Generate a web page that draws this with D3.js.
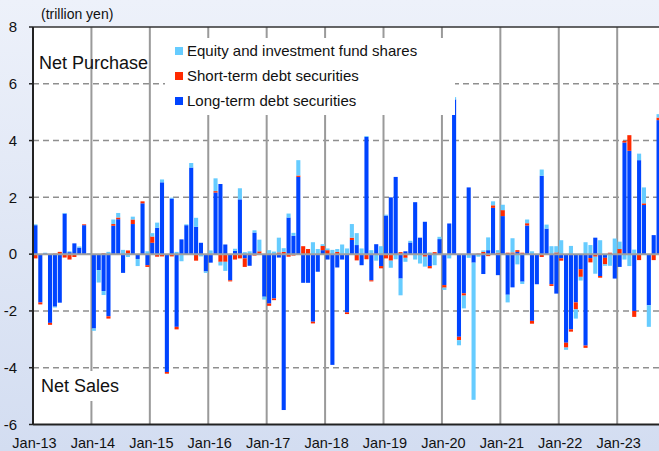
<!DOCTYPE html>
<html>
<head>
<meta charset="utf-8">
<script src="https://cdn.jsdelivr.net/npm/d3@7"></script>
<style>
  body { margin: 0; padding: 0; overflow: hidden; }
  svg { display: block; font-family: "Liberation Sans", Arial, sans-serif; }
</style>
</head>
<body>
<div id="chart"></div>
<script>
// monthly data, Jan-13 .. Sep-23 (trillion yen)
var longTerm = [
  1.02, -1.70, 0.03, -2.42, -1.85, -1.71, 1.43, 0.07, 0.38, 0.23, 1.02, 0.02,
  -2.62, -0.56, -1.30, -2.19, 1.00, 1.23, -0.66, 0.03, 1.06, -0.17, 1.79, -0.39,
  0.40, 0.93, 2.53, -4.15, 1.96, -2.56, 0.52, 1.02, 3.05, 0.96, 0.40, -0.61,
  -0.30, 2.17, 2.47, 0.34, -0.92, 0.12, 1.93, -0.15, -0.41, 0.76, 0.02, -1.50,
  -1.74, -1.56, -0.12, -5.49, 1.29, 0.65, 2.72, -1.01, -1.01, -2.38, -0.62, 0.14,
  -0.19, -3.90, -0.47, -0.19, -2.05, 0.50, 0.32, -0.39, 4.13, -0.92, 0.35, -0.42,
  1.36, 2.00, 2.72, -0.86, 0.10, 0.41, 1.83, 0.58, 1.14, -0.42, 0.00, 0.53,
  -1.09, 1.08, 5.45, -2.91, -1.38, 2.35, -0.30, -0.03, -0.70, 0.14, 1.63, -0.74,
  1.34, -1.43, -1.17, 0.08, -0.97, 1.01, -2.35, -1.06, 2.76, 0.90, -1.06, -1.39,
  -0.15, -3.12, -2.65, -1.70, -0.53, -3.22, -0.14, 0.58, -0.77, -0.13, 0.00, -0.86,
  -0.45, 3.93, 3.64, -2.00, 3.31, 1.73, -1.80, 0.67, 4.72
];
var shortTerm = [
  -0.15, -0.07, 0.00, -0.07, 0.02, 0.08, -0.12, -0.19, -0.10, 0.00, 0.03, 0.00,
  0.00, 0.00, 0.03, -0.08, 0.06, 0.06, 0.00, 0.10, 0.16, 0.00, 0.07, -0.06,
  0.22, -0.09, -0.08, -0.06, -0.08, -0.09, 0.00, 0.00, 0.00, -0.23, 0.00, 0.00,
  0.00, 0.05, -0.27, -0.27, -0.04, -0.19, -0.15, -0.30, 0.00, -0.05, 0.08, 0.00,
  -0.08, -0.06, 0.06, 0.08, -0.09, -0.05, 0.05, 0.28, 0.18, -0.06, 0.00, 0.15,
  0.14, 0.00, 0.08, 0.00, -0.06, 0.08, -0.22, 0.00, -0.18, -0.04, 0.00, -0.08,
  -0.15, -0.23, 0.00, 0.07, -0.13, 0.00, 0.00, 0.00, -0.09, -0.08, 0.07, 0.00,
  -0.09, 0.00, 0.00, -0.12, -0.08, 0.00, 0.00, 0.02, 0.08, -0.07, 0.09, 0.05,
  0.21, 0.05, 0.06, 0.06, 0.05, 0.08, -0.10, 0.00, -0.10, 0.00, -0.06, 0.06,
  -0.08, -0.17, -0.08, -0.24, -0.27, -0.08, -0.15, -0.09, -0.06, -0.23, 0.05, 0.00,
  0.18, 0.06, 0.55, -0.21, -0.21, 0.06, 0.00, -0.21, 0.09
];
var equity = [
  0.03, 0.00, 0.02, 0.00, -0.03, 0.00, 0.02, 0.03, 0.00, 0.04, 0.00, 0.02,
  -0.08, -0.44, -0.14, 0.08, 0.16, 0.16, 0.15, -0.10, 0.10, -0.25, 0.00, 0.10,
  0.12, 0.18, 0.10, 0.00, 0.03, 0.08, -0.25, 0.03, 0.16, 0.32, -0.08, -0.05,
  0.13, 0.45, -0.13, -0.32, 0.00, 0.07, 0.39, 0.07, 0.10, 0.08, 0.41, -0.10,
  0.14, 0.09, 0.52, 0.13, 0.14, 0.10, 0.54, 0.00, 0.00, 0.42, 0.18, 0.06,
  0.06, 0.15, 0.10, 0.34, 0.20, 0.48, 0.42, 0.20, 0.03, 0.14, -0.23, 0.28,
  0.03, -0.25, -0.18, -0.59, -0.14, 0.06, -0.19, -0.33, -0.35, 0.06, -0.39, 0.08,
  -0.08, -0.15, 0.08, -0.18, -0.45, -0.13, -4.83, -0.06, 0.05, 0.45, 0.14, 0.09,
  0.19, -0.27, 0.50, -0.36, -0.08, 0.13, 0.10, 0.00, 0.22, 0.14, 0.28, 0.22,
  0.49, -0.08, 0.29, -0.33, -0.13, 0.42, 0.32, -0.60, 0.49, -0.05, -0.41, 0.55,
  0.26, -0.19, -0.42, 0.16, 0.23, 0.56, -0.76, 0.00, 0.12
];
var yearLabels = ["Jan-13","Jan-14","Jan-15","Jan-16","Jan-17","Jan-18","Jan-19","Jan-20","Jan-21","Jan-22","Jan-23"];
var yTicks = [-6, -4, -2, 0, 2, 4, 6, 8];

var seriesNames = ["Long-term debt securities", "Short-term debt securities", "Equity and investment fund shares"];
var colors = {"long": "#0044ff", "short": "#ff2a00", "equity": "#66ccff"};

var width = 659, height = 451;
var margin = {top: 27, left: 33};
var nMonths = 129;
var plotRight = 661;      // plot runs just past the picture edge
var plotBottom = 424.5;

var svg = d3.select("#chart").append("svg")
  .attr("width", width)
  .attr("height", height);

// background gradient
var defs = svg.append("defs");
var grad = defs.append("linearGradient").attr("id", "bg").attr("x1", 0).attr("y1", 0).attr("x2", 0).attr("y2", 1);
grad.append("stop").attr("offset", "0%").attr("stop-color", "#edf1fa");
grad.append("stop").attr("offset", "100%").attr("stop-color", "#d3ddf1");
svg.append("rect").attr("width", width).attr("height", height).attr("fill", "url(#bg)");

var x = d3.scaleBand()
  .domain(d3.range(nMonths))
  .range([margin.left, plotRight])
  .paddingInner(0.16)
  .paddingOuter(0.08);
var xm = d3.scaleLinear().domain([0, nMonths]).range([margin.left, plotRight]);
var y = d3.scaleLinear().domain([-6, 8]).range([plotBottom, margin.top]);

// plot area
svg.append("rect")
  .attr("x", margin.left).attr("y", margin.top)
  .attr("width", plotRight - margin.left).attr("height", plotBottom - margin.top)
  .attr("fill", "#fff");

// dashed horizontal grid
svg.append("g").selectAll("line")
  .data([-4, -2, 2, 4, 6])
  .join("line")
  .attr("x1", margin.left).attr("x2", plotRight)
  .attr("y1", d => y(d)).attr("y2", d => y(d))
  .attr("stroke", "#8f8f8f").attr("stroke-width", 1.5)
  .attr("stroke-dasharray", "6,4");

// vertical grid at each January
var janIdx = yearLabels.map((d, i) => i * 12);
svg.append("g").selectAll("line")
  .data(janIdx.slice(1))
  .join("line")
  .attr("x1", d => xm(d)).attr("x2", d => xm(d))
  .attr("y1", margin.top).attr("y2", plotBottom)
  .attr("stroke", "#9a9a9a").attr("stroke-width", 2);

// stacked bars
var table = d3.range(nMonths).map(i => ({i: i, long: longTerm[i], short: shortTerm[i], equity: equity[i]}));
var stack = d3.stack()
  .keys(["long", "short", "equity"])
  .offset(d3.stackOffsetDiverging);
var layers = stack(table);

svg.append("g").selectAll("g")
  .data(layers)
  .join("g")
  .attr("fill", d => colors[d.key])
  .selectAll("rect")
  .data(d => d)
  .join("rect")
  .attr("x", d => x(d.data.i))
  .attr("width", x.bandwidth())
  .attr("y", d => y(Math.max(d[0], d[1])))
  .attr("height", d => Math.abs(y(d[0]) - y(d[1])));

// zero line
svg.append("line")
  .attr("x1", margin.left).attr("x2", plotRight)
  .attr("y1", y(0)).attr("y2", y(0))
  .attr("stroke", "#a0a0a0").attr("stroke-width", 2);

// legend
svg.append("rect").attr("x", 165).attr("y", 38).attr("width", 290).attr("height", 77).attr("fill", "#fff");
var legendItems = [
  {name: seriesNames[2], key: "equity"},
  {name: seriesNames[1], key: "short"},
  {name: seriesNames[0], key: "long"}
];
var legend = svg.append("g").selectAll("g")
  .data(legendItems)
  .join("g")
  .attr("transform", (d, i) => "translate(175," + (51 + i * 25) + ")");
legend.append("rect")
  .attr("x", 0).attr("y", -4).attr("width", 8).attr("height", 8)
  .attr("fill", d => colors[d.key]);
legend.append("text")
  .attr("x", 12).attr("y", 0).attr("dy", "0.35em")
  .attr("font-size", 15).attr("fill", "#111")
  .text(d => d.name);

// annotations
svg.append("text").attr("x", 39).attr("y", 69).attr("font-size", 18).attr("fill", "#111").text("Net Purchase");
svg.append("rect").attr("x", 36).attr("y", 371).attr("width", 111).attr("height", 30).attr("fill", "#fff");
svg.append("text").attr("x", 41).attr("y", 392).attr("font-size", 18).attr("fill", "#111").text("Net Sales");
svg.append("text").attr("x", 41).attr("y", 19).attr("font-size", 14).attr("fill", "#111").text("(trillion yen)");

// axes frame
svg.append("line").attr("x1", margin.left).attr("x2", plotRight).attr("y1", margin.top).attr("y2", margin.top)
  .attr("stroke", "#333").attr("stroke-width", 1.5);
svg.append("line").attr("x1", margin.left).attr("x2", plotRight).attr("y1", plotBottom).attr("y2", plotBottom)
  .attr("stroke", "#222").attr("stroke-width", 2);
svg.append("line").attr("x1", margin.left).attr("x2", margin.left).attr("y1", margin.top).attr("y2", plotBottom)
  .attr("stroke", "#222").attr("stroke-width", 2);

// y ticks and labels
var yAxis = svg.append("g");
yAxis.selectAll("line")
  .data(yTicks)
  .join("line")
  .attr("x1", margin.left - 4).attr("x2", margin.left)
  .attr("y1", d => y(d)).attr("y2", d => y(d))
  .attr("stroke", "#222").attr("stroke-width", 1.5);
yAxis.selectAll("text")
  .data(yTicks)
  .join("text")
  .attr("x", 17).attr("y", d => y(d)).attr("dy", "0.35em")
  .attr("text-anchor", "end").attr("font-size", 15).attr("fill", "#111")
  .text(d => d);

// x labels
svg.append("g").selectAll("text")
  .data(yearLabels)
  .join("text")
  .attr("x", (d, i) => xm(i * 12) + 1.5)
  .attr("y", 448)
  .attr("text-anchor", "middle").attr("font-size", 14.5).attr("fill", "#111")
  .text(d => d);
</script>
</body>
</html>
